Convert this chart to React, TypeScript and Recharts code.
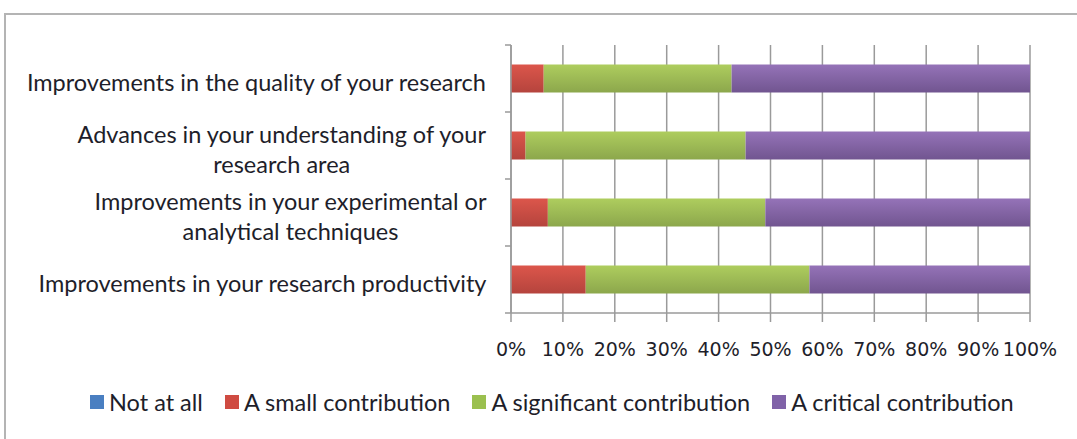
import React from "react";
import {
  BarChart,
  Bar,
  XAxis,
  YAxis,
  CartesianGrid,
  Legend,
} from "recharts";

// categories top to bottom, "\n" marks a line break in the label
const categories = [
  "Improvements in the quality of your research",
  "Advances in your understanding of your\nresearch area",
  "Improvements in your experimental or\nanalytical techniques",
  "Improvements in your research productivity",
];

// share of answers, per cent
const notAtAll = [0, 0, 0, 0];
const smallContribution = [6.3, 2.8, 7.1, 14.4];
const significantContribution = [36.2, 42.4, 41.9, 43.1];
const criticalContribution = [57.5, 54.8, 51.0, 42.5];

const xTicks = [0, 10, 20, 30, 40, 50, 60, 70, 80, 90, 100];

const series = [
  { key: "notAtAll", name: "Not at all", top: "#5b8fd0", bottom: "#3f6fae", swatch: "#4a7fc1" },
  { key: "small", name: "A small contribution", top: "#dc564b", bottom: "#b5443d", swatch: "#cf4b42" },
  { key: "significant", name: "A significant contribution", top: "#aecd5e", bottom: "#8ca74c", swatch: "#9bc04f" },
  { key: "critical", name: "A critical contribution", top: "#9573b8", bottom: "#715590", swatch: "#8062a8" },
];

const data = categories.map((name, i) => ({
  name,
  notAtAll: notAtAll[i],
  small: smallContribution[i],
  significant: significantContribution[i],
  critical: criticalContribution[i],
}));

const LABEL_SIZE = 23.5;
const LABEL_GAP = 24; // space between label block and the axis
const AXIS_GREY = "#9a9a9a";

let ctx: CanvasRenderingContext2D | null = null;
function textWidth(s: string) {
  if (!ctx) ctx = document.createElement("canvas").getContext("2d");
  if (!ctx) return s.length * 10;
  ctx.font = `${LABEL_SIZE}px Lato`;
  return ctx.measureText(s).width;
}

// category label, plus the small tick marks Excel puts on the row boundaries
const CategoryTick = (props: any) => {
  const { x, y, payload, index, visibleTicksCount } = props;
  const lines = String(payload.value).split("\n");
  const maxW = Math.max(...lines.map(textWidth));
  const cx = x - maxW / 2;
  const axisX = x + LABEL_GAP;
  const half = payload.offset || 0;
  const isLast = index === (visibleTicksCount ?? categories.length) - 1;
  return (
    <g>
      {half > 0 && (
        <line x1={axisX - 6} x2={axisX} y1={y - half} y2={y - half} stroke={AXIS_GREY} strokeWidth={1.5} />
      )}
      {half > 0 && isLast && (
        <line x1={axisX - 6} x2={axisX} y1={y + half} y2={y + half} stroke={AXIS_GREY} strokeWidth={1.5} />
      )}
      {lines.map((line, i) => (
        <text
          key={i}
          x={cx}
          y={y + 3 + (i - (lines.length - 1) / 2) * 30}
          textAnchor="middle"
          dominantBaseline="central"
          fontFamily="Lato"
          fontSize={LABEL_SIZE}
          fill="#1e1e2a"
        >
          {line}
        </text>
      ))}
    </g>
  );
};

const LegendContent = () => (
  <div
    style={{
      display: "flex",
      height: 30,
      alignItems: "center",
      fontFamily: "Lato",
      fontSize: LABEL_SIZE,
      color: "#1e1e2a",
      paddingLeft: 90,
      gap: 22,
    }}
  >
    {series.map((s) => (
      <span key={s.key} style={{ display: "flex", alignItems: "center" }}>
        <span style={{ width: 14, height: 14, background: s.swatch, marginRight: 5, display: "inline-block" }} />
        {s.name}
      </span>
    ))}
  </div>
);

export default function App() {
  return (
    <div style={{ position: "relative", width: 1077, height: 439, overflow: "hidden", background: "#fff" }}>
      <style>{`body{margin:0}`}</style>
      <div
        style={{
          position: "absolute",
          left: 4,
          top: 13,
          width: 1200,
          height: 600,
          border: "2px solid #b4b4b4",
        }}
      />
      <BarChart
        width={1077}
        height={439}
        data={data}
        layout="vertical"
        margin={{ top: 45, right: 47, bottom: 22, left: 0 }}
        barCategoryGap="29%"
        style={{ position: "absolute", left: 0, top: 0 }}
      >
        <defs>
          {series.map((s) => (
            <linearGradient key={s.key} id={`grad-${s.key}`} x1="0" y1="0" x2="0" y2="1">
              <stop offset="0%" stopColor={s.top} />
              <stop offset="100%" stopColor={s.bottom} />
            </linearGradient>
          ))}
        </defs>
        <CartesianGrid horizontal={false} stroke={AXIS_GREY} strokeWidth={1.5} />
        <XAxis
          type="number"
          domain={[0, 100]}
          ticks={xTicks}
          tickFormatter={(v) => `${v}%`}
          height={74}
          tickSize={9}
          tickMargin={21}
          stroke={AXIS_GREY}
          strokeWidth={1.5}
          tick={{ fill: "#1e1e2a", fontFamily: "DejaVu Sans", fontSize: 19 }}
        />
        <YAxis
          type="category"
          dataKey="name"
          width={511}
          tickLine={false}
          tickSize={0}
          tickMargin={LABEL_GAP}
          stroke={AXIS_GREY}
          strokeWidth={1.5}
          tick={<CategoryTick />}
          interval={0}
        />
        <Legend verticalAlign="bottom" content={<LegendContent />} />
        {series.map((s) => (
          <Bar
            key={s.key}
            dataKey={s.key}
            name={s.name}
            stackId="a"
            fill={`url(#grad-${s.key})`}
            isAnimationActive={false}
          />
        ))}
      </BarChart>
    </div>
  );
}
